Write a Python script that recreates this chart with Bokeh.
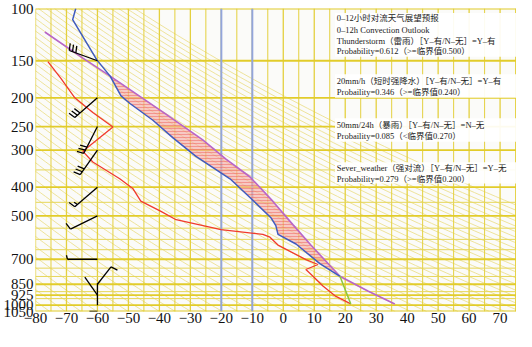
import numpy as np
from bokeh.plotting import figure
from bokeh.models import Range1d, FixedTicker
from bokeh.core.properties import value
from bokeh.embed import file_html
from bokeh.resources import INLINE

# ---------------- data ----------------
# environment temperature (blue)
temp_T = [-67.0, -68.0, -60.2, -55.9, -52.4, -49.5, -42.1, -35.6, -28.2, -17.2,
          -10.5, -4.0, -2.4, -1.7, 4.1, 11.8, 18.3]
temp_p = [100, 109, 149, 169, 197, 209, 238, 273, 315, 375,
          436, 507, 539, 577, 622, 724, 799]
# lowest layer temperature (green)
low_T = [18.3, 21.8]
low_p = [799, 990]
# dew point (red)
dew_T = [-76.0, -71.8, -67.3, -61.5, -55.0, -64.7, -61.5, -52.8, -48.6, -46.0,
         -39.8, -34.6, -20.1, -6.6, -4.3, -1.7, 7.3, 11.2, 7.3, 9.6, 12.8, 16.7, 21.8]
dew_p = [151, 172, 200, 224, 251, 303, 329, 375, 404, 446,
         481, 515, 556, 577, 590, 627, 702, 729, 758, 799, 862, 930, 990]
# parcel (state) curve (purple)
parcel_T = [-77.0, -64.7, -55.9, -37.9, -26.0, -18.5, -10.8, -3.4, 3.1, 8.9, 18.3, 27.3, 36.0]
parcel_p = [120, 147, 169, 227, 277, 322, 369, 446, 535, 627, 799, 895, 990]
# CAPE layer bounds
cape_top, cape_bottom = 169, 799
# wind barbs
wind_p = [150, 200, 250, 300, 400, 500, 700, 850, 925, 1000, 1050]
wind_dir = [290, 229, 207, 215, 229, 244, 270, 38, 325, 0, 270]
wind_spd = [12, 12, 12, 12, 6, 4, 2, 4, 0, 0, 0]
barb_T = -60
# axes
p_ticks = [100, 150, 200, 250, 300, 400, 500, 700, 850, 925, 1000, 1050]
t_ticks = [-80, -70, -60, -50, -40, -30, -20, -10, 0, 10, 20, 30, 40, 50, 60, 70]
grid_p = list(range(100, 1051, 50)) + [925]
mark_T = [-20, -10]
# text
lines = [
    "0–12小时对流天气展望预报",
    "0–12h Convection Outlook",
    "Thunderstorm（雷雨）［Y–有/N–无］=Y–有",
    "Probability=0.612（>=临界值0.500）",
    "20mm/h（短时强降水）［Y–有/N–无］=Y–有",
    "Probaility=0.346（>=临界值0.240）",
    "50mm/24h（暴雨）［Y–有/N–无］=N–无",
    "Probaility=0.085（<临界值0.270）",
    "Sever_weather（强对流）［Y–有/N–无］=Y–无",
    "Probability=0.279（>=临界值0.200）",
]
line_p = [107.5, 117.9, 128.2, 139.3, 175.8, 191.0, 247.1, 268.5, 345.6, 374.7]
box_top = [103.5, 166.7, 234.3, 329.5]
box_bot = [145.4, 199.9, 281.0, 389.0]

# ---------------- figure ----------------
X0, X1 = -80, 75.3
P0, P1 = 1050, 100
FW, FH = 481, 303
p = figure(frame_width=FW, frame_height=FH,
           x_range=Range1d(X0, X1), y_range=Range1d(P0, P1), y_axis_type="log",
           output_backend="svg", toolbar_location=None,
           min_border_left=35, min_border_right=0, min_border_top=8, min_border_bottom=0,
           background_fill_color="#fbfbf9", border_fill_color="white",
           outline_line_color=None)
p.grid.visible = False

YEL = "#e4d03f"
# dry adiabats
pp = np.geomspace(100, 1050, 80)
ad_x, ad_y = [], []
for th in range(190, 440, 5):
    ad_x.append(list(th * (pp / 1000.0) ** 0.286 - 273.15))
    ad_y.append(list(pp))
p.multi_line(ad_x, ad_y, line_color="#ece08f", line_width=0.9)

# isotherms
iso = list(range(-80, 80, 5))
p.segment(x0=[t for t in iso if t % 10 == 0], y0=P0, x1=[t for t in iso if t % 10 == 0], y1=P1,
          line_color=YEL, line_width=1.3)
p.segment(x0=[t for t in iso if t % 10 != 0], y0=P0, x1=[t for t in iso if t % 10 != 0], y1=P1,
          line_color=YEL, line_width=1.0)
# isobars
thick = [g for g in grid_p if g in p_ticks]
thin = [g for g in grid_p if g not in p_ticks]
p.segment(x0=X0, y0=thin, x1=X1, y1=thin, line_color="#e6d65a", line_width=1.0)
p.segment(x0=X0, y0=thick, x1=X1, y1=thick, line_color="#e2cc2a", line_width=1.8)
# highlighted isotherms
p.segment(x0=mark_T, y0=P0, x1=mark_T, y1=P1, line_color="#93a5da", line_width=2)

# CAPE area
px = [t for t, q in zip(parcel_T, parcel_p) if cape_top <= q <= cape_bottom]
py = [q for q in parcel_p if cape_top <= q <= cape_bottom]
ex = [t for t, q in zip(temp_T, temp_p) if cape_top <= q <= cape_bottom]
ey = [q for q in temp_p if cape_top <= q <= cape_bottom]
p.patch(px + ex[::-1], py + ey[::-1], fill_color="#f5a8a2", fill_alpha=0.6,
        line_color=None, hatch_pattern="horizontal_line", hatch_color="#ee4c46",
        hatch_scale=3, hatch_weight=0.6, hatch_alpha=0.7)

# curves
p.line(dew_T, dew_p, line_color="#f03a2e", line_width=1.3)
p.line(parcel_T, parcel_p, line_color="#b865c8", line_width=1.6)
p.line(temp_T, temp_p, line_color="#3f5bbf", line_width=1.5)
p.line(low_T, low_p, line_color="#8cc63f", line_width=1.5)

# wind barbs
ppd = FW / (X1 - X0)
ppl = FH / np.log(P0 / P1)
bxs, bys = [], []
for pr, d, s in zip(wind_p, wind_dir, wind_spd):
    L = 30 if pr < 800 else (22 if pr <= 1000 else 8)
    ux, uy = np.sin(np.radians(d)), np.cos(np.radians(d))
    vx, vy = uy, -ux
    segs = [((0, 0), (L * ux, L * uy))]
    pos = 0.0
    for k in range(int(s // 4)):
        sx, sy = L * ux - pos * ux, L * uy - pos * uy
        segs.append(((sx, sy), (sx + 7 * vx + 1.5 * ux, sy + 7 * vy + 1.5 * uy)))
        pos += 3.5
    if s % 4 >= 2:
        sx, sy = L * ux - pos * ux, L * uy - pos * uy
        segs.append(((sx, sy), (sx + 4 * vx + 1 * ux, sy + 4 * vy + 1 * uy)))
    for (a, b) in segs:
        bxs.append([barb_T + a[0] / ppd, barb_T + b[0] / ppd])
        bys.append([pr * np.exp(-a[1] / ppl), pr * np.exp(-b[1] / ppl)])
p.multi_line(bxs, bys, line_color="black", line_width=1.3)

# text boxes
p.quad(left=16.7, right=X1, top=box_top, bottom=box_bot, fill_color="white",
       fill_alpha=0.92, line_color=None)
p.text(x=[17.3] * len(lines), y=line_p, text=lines,
       text_font=value("Liberation Serif, Noto Sans CJK SC"), text_font_size="8.5px",
       text_baseline="middle", text_align="left", text_color="#222222")

# axes
p.xaxis.ticker = FixedTicker(ticks=t_ticks, minor_ticks=[])
p.xaxis.major_label_overrides = {t: (f"−{abs(t)}" if t < 0 else str(t)) for t in t_ticks}
p.yaxis.ticker = FixedTicker(ticks=p_ticks, minor_ticks=[])
p.yaxis.major_label_overrides = {v: str(v) for v in p_ticks}
for ax in (p.xaxis, p.yaxis):
    ax.axis_line_color = None
    ax.major_tick_line_color = None
    ax.minor_tick_line_color = None
    ax.major_tick_out = 0
    ax.major_tick_in = 0
    ax.major_label_text_font = "Liberation Serif"
    ax.major_label_text_font_size = "15px"
    ax.major_label_text_color = "#111111"
p.xaxis.major_label_standoff = 1
p.yaxis.major_label_standoff = 2

open("out.html", "w").write(file_html(p, INLINE))
